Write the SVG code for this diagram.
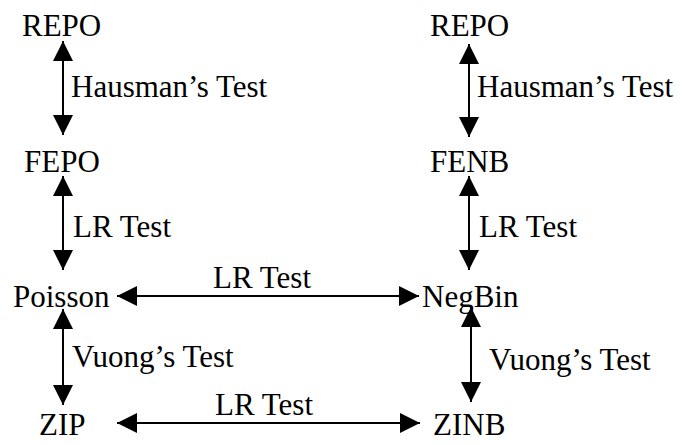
<svg xmlns="http://www.w3.org/2000/svg" width="686" height="445" viewBox="0 0 686 445">
<style>
text{font-family:"Liberation Serif","Times New Roman",serif;font-size:31px;fill:#000}
.c line{stroke:#000;stroke-width:2;marker-start:url(#ah);marker-end:url(#ah)}
</style>
<defs>
<marker id="ah" viewBox="0 0 20 20" markerWidth="20" markerHeight="20" refX="20" refY="10" orient="auto-start-reverse" markerUnits="userSpaceOnUse">
<path d="M0,0 L20,10 L0,20 z" fill="#000"/>
</marker>
</defs>
<rect width="686" height="445" fill="#fff"/>
<g id="repo1"><text x="22" y="36">REPO</text></g>
<g id="fepo"><text x="24" y="172">FEPO</text></g>
<g id="poisson"><text x="13" y="307">Poisson</text></g>
<g id="zip"><text x="39" y="435">ZIP</text></g>
<g id="repo2"><text x="430" y="36">REPO</text></g>
<g id="fenb"><text x="430" y="172">FENB</text></g>
<g id="negbin"><text x="422" y="307">NegBin</text></g>
<g id="zinb"><text x="433" y="435">ZINB</text></g>
<g class="c" id="connectors">
<line x1="63" y1="41" x2="63" y2="135"/>
<line x1="63" y1="176" x2="63" y2="270"/>
<line x1="63" y1="309" x2="63" y2="405"/>
<line x1="469" y1="44" x2="469" y2="137"/>
<line x1="469" y1="176" x2="469" y2="270"/>
<line x1="471" y1="307" x2="471" y2="402"/>
<line x1="117" y1="296" x2="419" y2="296"/>
<line x1="117" y1="423" x2="420" y2="423"/>
</g>
<g id="labels">
<text x="71" y="97">Hausman’s Test</text>
<text x="73" y="237">LR Test</text>
<text x="72" y="367">Vuong’s Test</text>
<text x="477" y="97">Hausman’s Test</text>
<text x="479" y="237">LR Test</text>
<text x="489" y="370">Vuong’s Test</text>
<text x="213" y="288">LR Test</text>
<text x="215" y="415">LR Test</text>
</g>
</svg>
